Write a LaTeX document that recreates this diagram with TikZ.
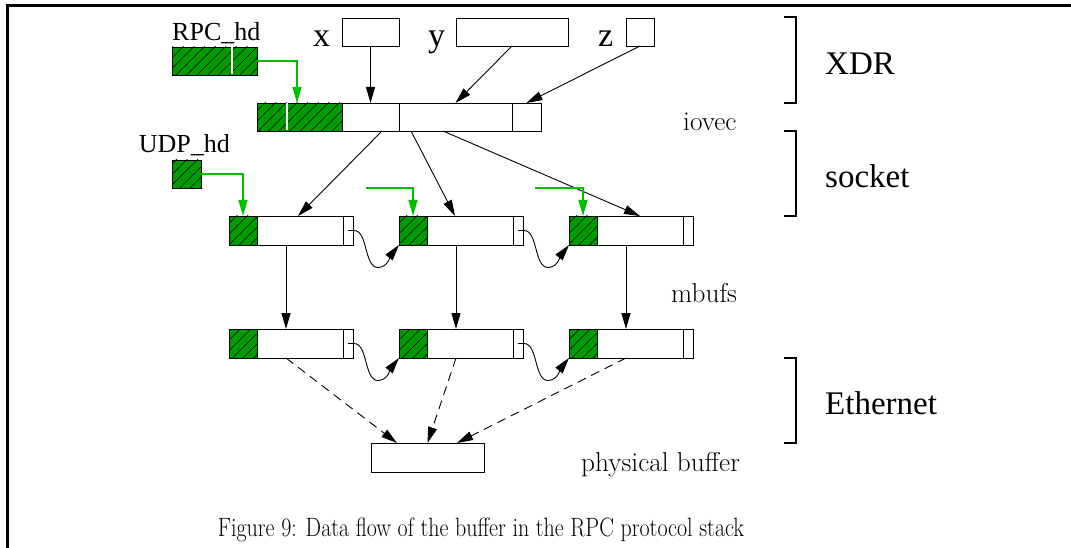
\documentclass[tikz,border=0pt]{standalone}
\usepackage{fontspec}
\newfontfamily\tms{Liberation Serif}
\usetikzlibrary{arrows.meta,patterns.meta,calc}
\definecolor{hatchgreen}{RGB}{0,155,0}
\definecolor{arrgreen}{RGB}{0,190,0}
\newcommand\mbufbox[3]{%
  \node[hatched,minimum width=28pt,minimum height=29pt] (g#1) at (#2,#3) {};
  \node[cell,minimum width=86pt,minimum height=29pt] (m#1) at (g#1.north east) {};
  \node[cell,minimum width=10pt,minimum height=29pt] (t#1) at (m#1.north east) {};
}
\begin{document}
\begin{tikzpicture}[x=1pt,y=-1pt,
  cell/.style={draw=black, line width=0.9pt, inner sep=0pt, outer sep=0pt, anchor=north west, fill=white},
  hatched/.style={cell, fill=hatchgreen, postaction={pattern={Lines[angle=45,distance=7.5pt,line width=0.55pt]}, pattern color=black}},
  arr/.style={line width=0.9pt, -{Triangle[length=16pt,width=9pt]}},
  garr/.style={draw=arrgreen, line width=1.3pt, -{Triangle[length=16pt,width=9pt,fill=arrgreen]}},
  darr/.style={arr, dash pattern=on 9pt off 6pt},
  bracket/.style={line width=2pt},
  tlbl/.style={anchor=base west, inner sep=0pt, font=\tms\fontsize{26}{30}\selectfont},
  vlbl/.style={anchor=base west, inner sep=0pt, font=\tms\fontsize{34}{38}\selectfont},
  llbl/.style={anchor=base west, inner sep=0pt, font=\tms\fontsize{33}{38}\selectfont},
  slbl/.style={anchor=base west, inner sep=0pt, font=\fontsize{27.3}{31}\selectfont},
]
\useasboundingbox (0,0) rectangle (1071,548);
% frame
\draw[line width=3pt] (7.5,548) -- (7.5,6) -- (1071,6);

% XDR variables
\node[cell,minimum width=57pt,minimum height=28pt] (xb) at (342,18) {};
\node[cell,minimum width=112pt,minimum height=28pt] (yb) at (456,18) {};
\node[cell,minimum width=28pt,minimum height=28pt] (zb) at (626,18) {};
\node[vlbl] (xl) at (313,47) {x};
\node[vlbl] (yl) at (428,47) {y};
\node[vlbl] (zl) at (598,47) {z};

% RPC header
\node[tlbl] (rpcl) at (172,41) {RPC\_hd};
\node[hatched,minimum width=85pt,minimum height=28pt] (rpc) at (172,47) {};
\draw[white,line width=1.3pt] ($(rpc.north west)+(60,0.5)$) -- ($(rpc.south west)+(60,-0.5)$);

% iovec
\node[hatched,minimum width=85pt,minimum height=28pt] (iovA) at (257,103) {};
\draw[white,line width=1.3pt] ($(iovA.north west)+(30,0.5)$) -- ($(iovA.south west)+(30,-0.5)$);
\node[cell,minimum width=57pt,minimum height=28pt] (iovB) at (342,103) {};
\node[cell,minimum width=113pt,minimum height=28pt] (iovC) at (399,103) {};
\node[cell,minimum width=29pt,minimum height=28pt] (iovD) at (512,103) {};
\node[slbl] (iovl) at (683,131) {iovec};

% UDP header
\node[tlbl,anchor=base east] (udpl) at (230,153) {UDP\_hd};
\node[hatched,minimum width=29pt,minimum height=28pt] (udp) at (172,160) {};

% mbufs
\mbufbox{11}{229}{216}
\mbufbox{21}{399}{216}
\mbufbox{31}{569}{216}
\mbufbox{12}{229}{329}
\mbufbox{22}{399}{329}
\mbufbox{32}{569}{329}
\node[slbl] (mbl) at (671,302) {mbufs};

% physical buffer
\node[cell,minimum width=113pt,minimum height=29pt] (pb) at (371,443) {};
\node[slbl] (pbl) at (581,471) {physical buffer};

% layer brackets
\draw[bracket] (784,17.5) -- (796,17.5) -- (796,103) -- (784,103);
\draw[bracket] (784,131) -- (796,131) -- (796,216) -- (784,216);
\draw[bracket] (784,358) -- (796,358) -- (796,443) -- (784,443);
\node[llbl] (xdrl) at (825,75) {XDR};
\node[llbl] (sockl) at (825,188) {socket};
\node[llbl] (ethl) at (825,414) {Ethernet};

% XDR -> iovec
\draw[arr] (xb.south) -- (iovB.north);
\draw[arr] (yb.south) -- (iovC.north);
\draw[arr] (zb.south) -- (iovD.north);

% iovec -> mbufs
\draw[arr] ($(iovB.south west)+(40,0)$) -- ($(m11.north west)+(41,0)$);
\draw[arr] ($(iovC.south west)+(12,0)$) -- ($(g21.north west)+(56,0)$);
\draw[arr] ($(iovC.south west)+(44,0)$) -- (m31.north);

% headers (green)
\draw[garr] (rpc.east) -| ($(iovA.north west)+(40,0)$);
\draw[garr] (udp.east) -| (g11.north);
\coordinate (s2) at (366,188);
\coordinate (s3) at (535,188);
\draw[garr] (s2) -| (g21.north);
\draw[garr] (s3) -| (g31.north);

% mbuf chains
\foreach \a/\b in {11/21,21/31,12/22,22/32}{
  \draw[arr] (t\a.center) -- ++(6,0) .. controls +(14,0) and +(-14,0) .. ++(24,37)
    .. controls +(10,0) and +(-8,10) .. (g\b.south west);
}

% row 1 -> row 2
\foreach \c in {1,2,3}{
  \draw[arr] ($(g\c1.south west)!0.5!(m\c1.south east)$) -- ($(g\c2.north west)!0.5!(m\c2.north east)$);
}

% row 2 -> physical buffer
\draw[darr] ($(g12.south west)!0.5!(m12.south east)$) -- ($(pb.north west)+(26,0)$);
\draw[darr] ($(g22.south west)!0.5!(m22.south east)$) -- (pb.north);
\draw[darr] ($(g32.south west)!0.5!(m32.south east)$) -- ($(pb.north west)+(86,0)$);

% caption
\node[anchor=base, inner sep=0pt, font=\fontsize{26.5}{30}\selectfont] (cap) at (481,536)
  {\scalebox{0.83}[1]{Figure 9: Data flow of the buffer in the RPC protocol stack}};
\end{tikzpicture}
\end{document}
